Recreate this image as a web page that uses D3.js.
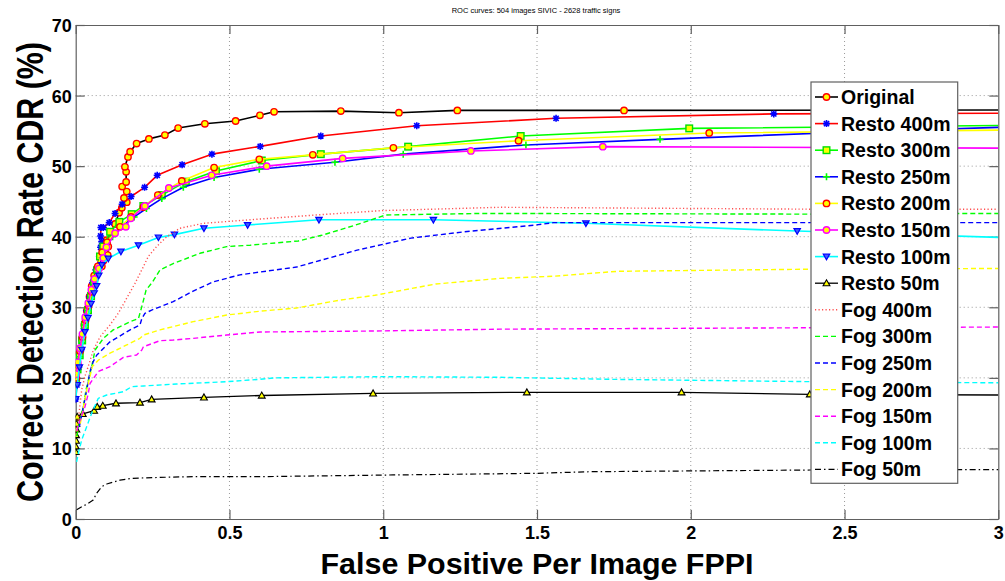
<!DOCTYPE html>
<html><head><meta charset="utf-8">
<script src="https://cdn.jsdelivr.net/npm/d3@7"></script>
<style>body{margin:0;background:#fff;} text{font-family:"Liberation Sans",Arial,sans-serif;}</style>
</head><body><svg id="c" width="1005" height="581"></svg>
<script>
// ---------- data ----------
const titleText = "ROC curves: 504 images SIVIC - 2628 traffic signs";
const xLabelText = "False Positive Per Image FPPI";
const yLabelText = "Correct Detection Rate CDR (%)";
const xTicks = [0, 0.5, 1, 1.5, 2, 2.5, 3];
const xTickLabels = ["0", "0.5", "1", "1.5", "2", "2.5", "3"];
const yTicks = [0, 10, 20, 30, 40, 50, 60, 70];
const yTickLabels = ["0", "10", "20", "30", "40", "50", "60", "70"];
const seriesNames = ["Original", "Resto 400m", "Resto 300m", "Resto 250m", "Resto 200m", "Resto 150m", "Resto 100m", "Resto 50m",
  "Fog 400m", "Fog 300m", "Fog 250m", "Fog 200m", "Fog 150m", "Fog 100m", "Fog 50m"];

const original = [[0.002,19.8],[0.006,21.5],[0.012,23.5],[0.02,25.5],[0.028,27.5],[0.036,29.5],[0.045,31.5],[0.052,33.0],[0.06,34.5],[0.068,35.3],[0.085,35.8],[0.09,36.6],[0.104,37.4],[0.106,38.6],[0.1,39.5],[0.115,40.6],[0.128,41.8],[0.141,43.4],[0.15,44.1],[0.166,44.9],[0.157,45.5],[0.166,46.4],[0.151,47.1],[0.164,47.75],[0.164,49.2],[0.16,49.9],[0.17,51.3],[0.177,52.05],[0.198,53.2],[0.238,53.86],[0.29,54.4],[0.333,55.4],[0.42,56.0],[0.52,56.4],[0.599,57.2],[0.645,57.7],[0.862,57.8],[1.051,57.57],[1.241,57.9],[1.783,57.9],[3,57.96]];
const resto400 = [[0.0,17],[0.004,19],[0.01,21.5],[0.018,24],[0.027,27],[0.036,29.5],[0.045,31.5],[0.055,33.5],[0.066,35.3],[0.077,37.2],[0.081,38.5],[0.0846,39.3],[0.081,40.1],[0.082,41.3],[0.09,41.3],[0.109,42.0],[0.128,43.3],[0.151,44.6],[0.18,45.7],[0.224,47.0],[0.265,48.7],[0.346,50.2],[0.443,51.7],[0.6,52.8],[0.797,54.27],[1.109,55.73],[1.562,56.78],[2.27,57.4],[3,57.5]];
const resto300 = [[0.001,19.5],[0.006,21.2],[0.013,23.2],[0.021,25.3],[0.03,27.5],[0.04,29.6],[0.05,31.6],[0.06,33.5],[0.07,35.3],[0.079,37.2],[0.09,38.6],[0.112,40.7],[0.142,42.1],[0.182,43.2],[0.22,44.35],[0.28,45.9],[0.358,47.8],[0.456,49.3],[0.605,50.8],[0.797,51.7],[1.081,52.76],[1.447,54.27],[1.995,55.35],[3,55.75]];
const resto250 = [[0.001,19],[0.006,21],[0.013,23],[0.021,25],[0.031,27.5],[0.041,29.5],[0.051,31.4],[0.061,33.2],[0.071,35],[0.086,37],[0.1,38.6],[0.12,40.0],[0.15,41.5],[0.19,42.8],[0.23,44.0],[0.28,45.4],[0.35,47.0],[0.45,48.4],[0.597,49.55],[0.843,50.55],[1.065,51.7],[1.464,53.0],[1.9,53.8],[2.5,54.8],[3,55.5]];
const resto200 = [[0.002,20],[0.007,21.8],[0.014,23.8],[0.022,25.8],[0.032,28.2],[0.042,30.2],[0.052,32.2],[0.062,34],[0.072,35.8],[0.086,37.8],[0.102,39.2],[0.144,41.4],[0.18,42.8],[0.22,44.2],[0.267,45.9],[0.345,47.9],[0.45,49.8],[0.597,50.97],[0.771,51.6],[1.033,52.6],[1.44,53.6],[2.06,54.7],[3,55.1]];
const resto150 = [[0.002,20.5],[0.007,22.2],[0.014,24.2],[0.022,26.2],[0.031,28.6],[0.041,30.6],[0.051,32.5],[0.061,34],[0.076,35.5],[0.09,37],[0.1,38.5],[0.128,40.5],[0.163,41.4],[0.179,42.6],[0.225,44.35],[0.303,46.9],[0.442,48.7],[0.621,50.0],[0.868,51.1],[1.285,52.15],[1.714,52.76],[3,52.55]];
const resto100 = [[0.0,17],[0.005,19],[0.012,21.5],[0.02,24],[0.03,26.5],[0.04,28.5],[0.05,30.5],[0.06,32],[0.068,33],[0.075,34.5],[0.085,36.0],[0.106,36.9],[0.147,37.9],[0.204,38.8],[0.269,39.9],[0.321,40.3],[0.417,41.2],[0.559,41.66],[0.791,42.4],[1.163,42.4],[1.659,41.9],[2.346,40.8],[3,39.9]];
const resto50 = [[0.0,9.5],[0.0,10.3],[0.001,11.1],[0.001,11.9],[0.002,12.7],[0.002,13.5],[0.003,14.3],[0.005,14.5],[0.023,14.9],[0.06,15.35],[0.07,15.9],[0.088,16.06],[0.131,16.4],[0.209,16.5],[0.247,16.96],[0.417,17.24],[0.605,17.5],[0.967,17.8],[1.467,17.95],[1.97,17.95],[2.387,17.67],[3,17.57]];
const fog400 = [[0.002,12],[0.0085,14],[0.0195,18.3],[0.03,20.2],[0.044,22.06],[0.057,23.9],[0.079,25.8],[0.1115,27.5],[0.1386,29.15],[0.166,31.3],[0.193,33.4],[0.22,35.75],[0.236,37.2],[0.263,38.6],[0.296,40.0],[0.339,41.2],[0.415,41.9],[0.567,42.4],[0.788,43.1],[0.996,43.7],[1.38,44.17],[2.387,43.9],[3,43.9]];
const fog300 = [[0.003,11.7],[0.012,13.6],[0.025,15.9],[0.0335,18.3],[0.052,21.6],[0.063,23.95],[0.09,25.6],[0.122,26.8],[0.177,27.96],[0.204,28.4],[0.215,30.1],[0.229,32.45],[0.25,33.6],[0.274,35.3],[0.317,36.2],[0.404,37.65],[0.491,38.6],[0.567,38.8],[0.724,39.4],[0.8,40.2],[0.904,41.57],[1.008,43.08],[1.321,43.3],[2.39,43.2],[3,43.3]];
const fog250 = [[0.012,13.1],[0.025,15.9],[0.036,18.3],[0.0465,20.9],[0.057,22.3],[0.068,23.2],[0.1115,25.1],[0.177,26.8],[0.209,27.5],[0.215,28.4],[0.225,29.15],[0.247,29.6],[0.317,30.8],[0.382,32.3],[0.447,33.6],[0.534,34.6],[0.6,35.0],[0.718,35.7],[0.8,36.7],[0.915,38.1],[1.09,39.8],[1.264,40.7],[1.496,41.66],[1.554,42.0],[3,42.0]];
const fog200 = [[0.015,13.5],[0.025,15.8],[0.036,18.3],[0.0465,20.2],[0.054,21.6],[0.0735,22.5],[0.1115,23.5],[0.166,24.66],[0.209,25.6],[0.22,26.07],[0.274,26.8],[0.382,27.96],[0.491,28.9],[0.6,29.45],[0.718,29.9],[0.857,31.0],[0.973,31.7],[1.171,33.3],[1.38,34.1],[1.554,34.4],[1.763,35.1],[2.388,35.4],[3,35.5]];
const fog150 = [[0.003,12.5],[0.014,14.0],[0.0302,15.9],[0.041,17.8],[0.0465,19.2],[0.0735,20.9],[0.1115,21.6],[0.155,22.9],[0.198,23.24],[0.215,23.95],[0.22,24.4],[0.274,25.27],[0.317,25.36],[0.382,25.6],[0.491,26.07],[0.6,26.5],[0.973,26.64],[1.38,26.9],[2.388,27.1],[3,27.2]];
const fog100 = [[0.003,8.1],[0.0085,9.3],[0.0195,11.2],[0.036,13.1],[0.052,15.0],[0.0735,17.1],[0.101,17.57],[0.155,18.04],[0.182,18.75],[0.22,18.85],[0.328,19.13],[0.491,19.46],[0.6,19.8],[0.648,20.0],[0.996,20.17],[1.38,20.08],[1.728,19.8],[2.388,19.46],[3,19.3]];
const fog50 = [[0.003,1.3],[0.0195,1.74],[0.036,2.1],[0.057,2.7],[0.068,3.64],[0.085,4.58],[0.101,4.96],[0.144,5.5],[0.182,5.76],[0.274,5.9],[0.382,6.0],[0.6,6.0],[1.032,6.24],[1.496,6.47],[1.67,6.7],[2.388,6.94],[3,7.0]];

const seriesData = [original, resto400, resto300, resto250, resto200, resto150, resto100, resto50,
  fog400, fog300, fog250, fog200, fog150, fog100, fog50];

// ---------- styles ----------
const styles = [
  {color:"#000000", w:1.6, dash:null, marker:"o", mStroke:"#ff0000", mFill:"#ffff00"},
  {color:"#ff0000", w:1.6, dash:null, marker:"*", mStroke:"#0000ff", mFill:"#0000ff"},
  {color:"#00ff00", w:1.6, dash:null, marker:"s", mStroke:"#00e000", mFill:"#ffff00"},
  {color:"#0000ff", w:1.6, dash:null, marker:"+", mStroke:"#00ff00", mFill:"none"},
  {color:"#ffff00", w:1.6, dash:null, marker:"o", mStroke:"#ff0000", mFill:"#ffff00"},
  {color:"#ff00ff", w:1.6, dash:null, marker:"o", mStroke:"#ff00ff", mFill:"#ffff00"},
  {color:"#00ffff", w:1.6, dash:null, marker:"v", mStroke:"#0000ff", mFill:"#4060ff"},
  {color:"#000000", w:1.3, dash:null, marker:"^", mStroke:"#000000", mFill:"#ffff00"},
  {color:"#ff5050", w:1.4, dash:"1.2,2.3", marker:null},
  {color:"#00ff00", w:1.4, dash:"5,3", marker:null},
  {color:"#0000ff", w:1.4, dash:"5,3", marker:null},
  {color:"#ffff00", w:1.4, dash:"5,3", marker:null},
  {color:"#ff00ff", w:1.4, dash:"5,3", marker:null},
  {color:"#00ffff", w:1.4, dash:"5,3", marker:null},
  {color:"#000000", w:1.2, dash:"6,3,1.5,3", marker:null}
];

// ---------- layout ----------
const L = 75.7, R = 998.3, T = 25, B = 519;
const svg = d3.select("#c");
const x = d3.scaleLinear().domain([0, 3]).range([L, R]);
const y = d3.scaleLinear().domain([0, 70]).range([B, T]);

// grid
const grid = svg.append("g");
grid.selectAll(".gx").data(xTicks.slice(1, -1)).enter().append("line")
  .attr("x1", d => x(d)).attr("x2", d => x(d)).attr("y1", T).attr("y2", B)
  .attr("stroke", "#9a9a9a").attr("stroke-width", 1).attr("stroke-dasharray", "1,3");
grid.selectAll(".gy").data(yTicks.slice(1, -1)).enter().append("line")
  .attr("x1", L).attr("x2", R).attr("y1", d => y(d)).attr("y2", d => y(d))
  .attr("stroke", "#9a9a9a").attr("stroke-width", 1).attr("stroke-dasharray", "1,3");

// axes (ticks inside)
const axCol = "#606060";
const xAxisB = d3.axisBottom(x).tickValues(xTicks).tickFormat((d, i) => xTickLabels[i]).tickSizeInner(-9).tickSizeOuter(0).tickPadding(7);
const yAxisL = d3.axisLeft(y).tickValues(yTicks).tickFormat((d, i) => yTickLabels[i]).tickSizeInner(-9).tickSizeOuter(0).tickPadding(4);
const gxB = svg.append("g").attr("transform", `translate(0,${B})`).call(xAxisB);
const gyL = svg.append("g").attr("transform", `translate(${L},0)`).call(yAxisL);
const gxT = svg.append("g").attr("transform", `translate(0,${T})`).call(d3.axisTop(x).tickValues(xTicks).tickSizeInner(-9).tickSizeOuter(0).tickFormat(""));
const gyR = svg.append("g").attr("transform", `translate(${R},0)`).call(d3.axisRight(y).tickValues(yTicks).tickSizeInner(-9).tickSizeOuter(0).tickFormat(""));
[gxB, gyL, gxT, gyR].forEach(g => {
  g.selectAll("path.domain").attr("stroke", axCol).attr("stroke-width", 1.2);
  g.selectAll(".tick line").attr("stroke", axCol).attr("stroke-width", 1.2);
});
gxB.selectAll(".tick text").attr("font-size", 18).attr("font-weight", "bold").attr("fill", "#000")
  .attr("font-family", "'Liberation Sans',Arial,sans-serif");
gyL.selectAll(".tick text").attr("font-size", 18).attr("font-weight", "bold").attr("fill", "#000")
  .attr("font-family", "'Liberation Sans',Arial,sans-serif").attr("dy", "0.36em");

// clip
svg.append("clipPath").attr("id", "clip").append("rect").attr("x", L).attr("y", T).attr("width", R - L).attr("height", B - T);
const plot = svg.append("g").attr("clip-path", "url(#clip)");

const line = d3.line().x(d => x(d[0])).y(d => y(d[1]));

function drawMarker(g, type, cx, cy, st) {
  if (type === "o") {
    g.append("circle").attr("cx", cx).attr("cy", cy).attr("r", 3.2)
      .attr("fill", st.mFill).attr("stroke", st.mStroke).attr("stroke-width", 1.4);
  } else if (type === "s") {
    g.append("rect").attr("x", cx - 3.3).attr("y", cy - 3.3).attr("width", 6.6).attr("height", 6.6)
      .attr("fill", st.mFill).attr("stroke", st.mStroke).attr("stroke-width", 1.4);
  } else if (type === "+") {
    g.append("path").attr("d", `M${cx-3.5},${cy}H${cx+3.5}M${cx},${cy-3.5}V${cy+3.5}`)
      .attr("stroke", st.mStroke).attr("stroke-width", 1.6).attr("fill", "none");
  } else if (type === "*") {
    g.append("path").attr("d", `M${cx-3.5},${cy}H${cx+3.5}M${cx},${cy-3.5}V${cy+3.5}M${cx-2.6},${cy-2.6}L${cx+2.6},${cy+2.6}M${cx-2.6},${cy+2.6}L${cx+2.6},${cy-2.6}`)
      .attr("stroke", st.mStroke).attr("stroke-width", 1.6).attr("fill", "none");
    g.append("circle").attr("cx", cx).attr("cy", cy).attr("r", 1.6).attr("fill", st.mFill);
  } else if (type === "v") {
    g.append("path").attr("d", `M${cx-3.2},${cy-2.4}L${cx+3.2},${cy-2.4}L${cx},${cy+3.2}Z`)
      .attr("fill", st.mFill).attr("stroke", st.mStroke).attr("stroke-width", 1.2);
  } else if (type === "^") {
    g.append("path").attr("d", `M${cx-3.4},${cy+2.6}L${cx+3.4},${cy+2.6}L${cx},${cy-3.4}Z`)
      .attr("fill", st.mFill).attr("stroke", st.mStroke).attr("stroke-width", 1.1);
  }
}

seriesData.forEach((data, i) => {
  const st = styles[i];
  plot.append("path").datum(data).attr("d", line)
    .attr("fill", "none").attr("stroke", st.color).attr("stroke-width", st.w)
    .attr("stroke-dasharray", st.dash).attr("stroke-linejoin", "round");
  if (st.marker) {
    const mg = plot.append("g");
    data.filter(d => d[0] < 3).forEach(d => drawMarker(mg, st.marker, x(d[0]), y(d[1]), st));
  }
});

// title
svg.append("text").attr("x", 536).attr("y", 12.5).attr("text-anchor", "middle")
  .attr("font-size", 7.5).attr("fill", "#000").text(titleText);

// axis labels
svg.append("text").attr("x", (L + R) / 2).attr("y", 574).attr("text-anchor", "middle")
  .attr("font-size", 30).attr("font-weight", "bold").attr("fill", "#000")
  .attr("textLength", 433).attr("lengthAdjust", "spacingAndGlyphs").text(xLabelText);
svg.append("text").attr("transform", `translate(43,${(T + B) / 2}) rotate(-90)`).attr("text-anchor", "middle")
  .attr("font-size", 36).attr("font-weight", "bold").attr("fill", "#000")
  .attr("textLength", 460).attr("lengthAdjust", "spacingAndGlyphs").text(yLabelText);

// legend
const lgX = 811, lgY = 82, lgW = 146.7, lgH = 401.3, lgStep = 26.6, lgFirst = 97;
const lg = svg.append("g");
lg.append("rect").attr("x", lgX).attr("y", lgY).attr("width", lgW).attr("height", lgH)
  .attr("fill", "#fff").attr("stroke", "#606060").attr("stroke-width", 1.2);
seriesNames.forEach((name, i) => {
  const st = styles[i];
  const cy = lgFirst + i * lgStep;
  lg.append("line").attr("x1", 815).attr("x2", 838).attr("y1", cy).attr("y2", cy)
    .attr("stroke", st.color).attr("stroke-width", st.w).attr("stroke-dasharray", st.dash);
  if (st.marker) drawMarker(lg, st.marker, 826.5, cy, st);
  lg.append("text").attr("x", 841).attr("y", cy + 7).attr("font-size", 19.5).attr("font-weight", "bold")
    .attr("fill", "#000").text(name);
});
</script></body></html>
